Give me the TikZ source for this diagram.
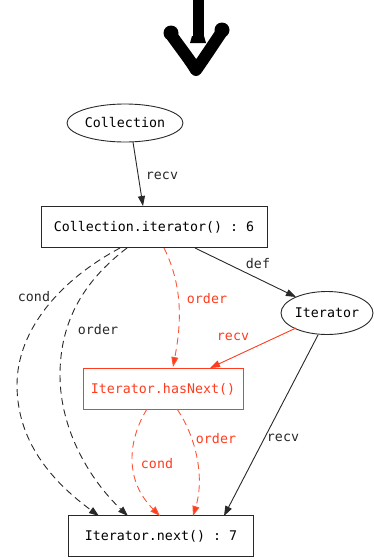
\documentclass[tikz,border=0pt]{standalone}
\usepackage{fontspec}
\setmonofont{DejaVu Sans Mono}
\usetikzlibrary{arrows.meta,shapes.geometric}
\definecolor{hl}{RGB}{255,60,30}
\definecolor{hld}{RGB}{255,85,55}
\definecolor{ink}{RGB}{40,40,40}
\tikzset{
  every node/.style={font=\ttfamily\fontsize{13.3}{16}\selectfont},
  ell/.style={ellipse,draw=ink,inner sep=0pt,line width=0.9pt},
  boxn/.style={rectangle,draw=ink,inner sep=0pt,line width=0.9pt},
  redbox/.style={rectangle,draw=hl,text=hl,inner sep=0pt,line width=0.9pt},
  arr/.style={draw=ink,line width=0.9pt,-{Triangle[length=10pt,width=7pt]}},
  darr/.style={arr,dash pattern=on 7pt off 4.5pt},
  rarr/.style={draw=hl,line width=0.9pt,-{Triangle[length=10pt,width=7pt]}},
  rdarr/.style={draw=hld,line width=0.9pt,dash pattern=on 7pt off 4.5pt,-{Triangle[length=10pt,width=7pt,fill=hl]}},
  lbl/.style={text=ink,inner sep=0pt},
  rlbl/.style={text=hl,inner sep=0pt}
}
\begin{document}
\begin{tikzpicture}[x=1pt,y=-1pt]
\useasboundingbox (0,0) rectangle (373,560);
% top glyph
\draw[line width=11pt] (198,0) -- (198,40);
\fill (192,36) -- (204,36) -- (206,43) -- (190,43) -- cycle;
\draw[line width=12pt,line cap=round,line join=round] (172,36) .. controls (182,50) and (190,60) .. (196,70) .. controls (203,60) and (211,48) .. (221,33);
\fill (171,33) circle (7.5pt);
\fill (222,30) circle (7.5pt);
% nodes
\node[ell,minimum width=116pt,minimum height=38pt] (col) at (125,123) {Collection};
\node[boxn,minimum width=226pt,minimum height=41pt] (it) at (154,227) {Collection.iterator() : 6};
\node[ell,minimum width=92pt,minimum height=43pt] (iter) at (327,313) {Iterator};
\node[redbox,minimum width=160pt,minimum height=41pt] (hn) at (163,389) {Iterator.hasNext()};
\node[boxn,minimum width=185pt,minimum height=41pt] (nx) at (161,536) {Iterator.next() : 7};
% anchors
\coordinate (a1) at (133,142); \coordinate (b1) at (143,206);
% edges
\draw[arr] (a1) -- (b1);
\node[lbl] at (162,176) {recv};
\coordinate (a2) at (195,248); \coordinate (b2) at (296,297);
\draw[arr] (a2) -- (b2);
\node[lbl] at (258,264) {def};
\coordinate (a3) at (164,248); \coordinate (b3) at (173,367);
\draw[rdarr] (a3) .. controls (185,290) and (180,330) .. (b3);
\node[rlbl] at (207,299) {order};
\coordinate (a4) at (296,328); \coordinate (b4) at (210,368);
\draw[rarr] (a4) -- (b4);
\node[rlbl] at (233,337) {recv};
\coordinate (a5) at (318,335); \coordinate (b5) at (224,516);
\draw[arr] (a5) -- (b5);
\node[lbl] at (283,438) {recv};
\coordinate (a6) at (120,248); \coordinate (m6) at (17,385); \coordinate (b6) at (99,516);
\draw[darr] (a6) .. controls (60,280) and (17,330) .. (m6) .. controls (17,440) and (50,480) .. (b6);
\node[lbl] at (34,297) {cond};
\coordinate (a7) at (127,248); \coordinate (m7) at (60,375); \coordinate (b7) at (128,516);
\draw[darr] (a7) .. controls (85,280) and (60,320) .. (m7) .. controls (60,430) and (90,480) .. (b7);
\node[lbl] at (98,330) {order};
\coordinate (a8) at (147,409); \coordinate (b8) at (160,516);
\draw[rdarr] (a8) .. controls (128,440) and (124,480) .. (b8);
\node[rlbl] at (157,464) {cond};
\coordinate (a9) at (177,409); \coordinate (b9) at (193,516);
\draw[rdarr] (a9) .. controls (198,440) and (204,480) .. (b9);
\node[rlbl] at (216,439) {order};
\end{tikzpicture}
\end{document}
